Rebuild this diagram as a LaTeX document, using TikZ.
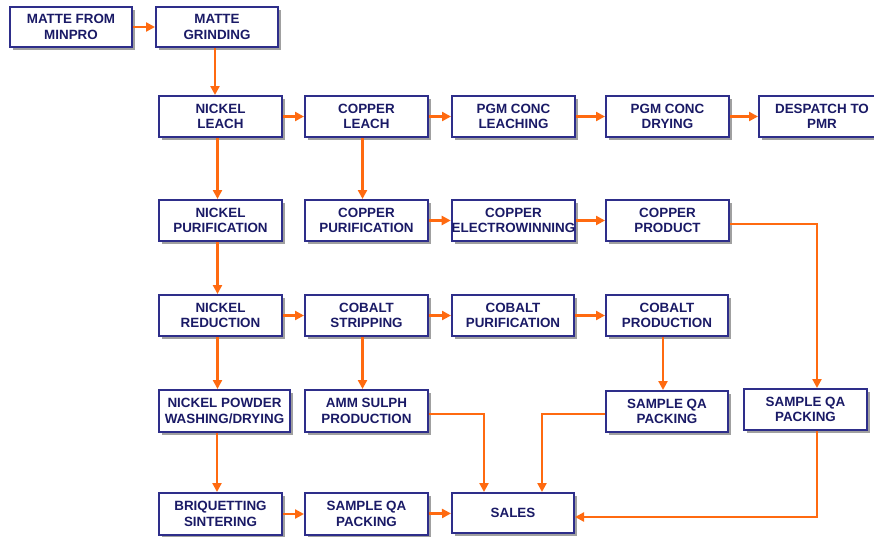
\documentclass[tikz,border=0pt]{standalone}
\usepackage{fontspec}
\setmainfont{Liberation Sans}
\usetikzlibrary{arrows.meta}
\definecolor{boxblue}{HTML}{2E2E8A}
\definecolor{txtblue}{HTML}{1A1A66}
\definecolor{arr}{HTML}{FF6A10}
\definecolor{shad}{HTML}{A0A0A0}
\tikzset{
  pbox/.style={draw=boxblue, line width=2pt, fill=white, inner sep=0pt, align=center,
    font=\fontsize{13.4}{15.5}\selectfont\bfseries, text=txtblue},
  flow/.style={draw=arr, line width=2.8pt, -{Triangle[length=9pt,width=9pt]}},
}
\newcommand{\bx}[6]{%
  \fill[shad] (#2pt+3pt,-#3pt-3pt) rectangle (#4pt+3pt,-#5pt-3pt);
  \node[pbox, minimum width=#4pt-#2pt, minimum height=#5pt-#3pt] (#1) at ({(#2+#4)/2*1pt},{-(#3+#5)/2*1pt}) {#6};}
\begin{document}
\begin{tikzpicture}[x=1pt,y=1pt]
\useasboundingbox (0,0) rectangle (874,-536);
\clip (0,0) rectangle (874,-536);
\fill[white] (0,0) rectangle (874,-536);
% row 0
\bx{minpro}{10}{7}{132}{47}{MATTE FROM\\MINPRO}
\bx{grind}{156}{7}{278}{47}{MATTE\\GRINDING}
% row 1
\bx{nileach}{159}{96}{282}{137}{NICKEL\\LEACH}
\bx{culeach}{305}{96}{428}{137}{COPPER\\LEACH}
\bx{pgmleach}{452}{96}{575}{137}{PGM CONC\\LEACHING}
\bx{pgmdry}{606}{96}{729}{137}{PGM CONC\\DRYING}
\bx{despatch}{759}{96}{885}{137}{DESPATCH TO\\PMR}
% row 2
\bx{nipur}{159}{200}{282}{241}{NICKEL\\PURIFICATION}
\bx{cupur}{305}{200}{428}{241}{COPPER\\PURIFICATION}
\bx{cuew}{452}{200}{575}{241}{COPPER\\ELECTROWINNING}
\bx{cuprod}{606}{200}{729}{241}{COPPER\\PRODUCT}
% row 3
\bx{nired}{159}{295}{282}{336}{NICKEL\\REDUCTION}
\bx{costrip}{305}{295}{428}{336}{COBALT\\STRIPPING}
\bx{copur}{452}{295}{574}{336}{COBALT\\PURIFICATION}
\bx{coprod}{606}{295}{728}{336}{COBALT\\PRODUCTION}
% row 4
\bx{niwash}{159}{390}{290}{432}{NICKEL POWDER\\WASHING/DRYING}
\bx{amm}{305}{390}{428}{432}{AMM SULPH\\PRODUCTION}
\bx{qamid}{606}{391}{728}{432}{SAMPLE QA\\PACKING}
\bx{qaright}{744}{389}{867}{430}{SAMPLE QA\\PACKING}
% row 5
\bx{briq}{159}{493}{282}{535}{BRIQUETTING\\SINTERING}
\bx{qaleft}{305}{493}{428}{535}{SAMPLE QA\\PACKING}
\bx{sales}{452}{493}{574}{533}{SALES}
% connectors
\draw[flow] (minpro) -- (grind);
\draw[flow] ([xshift=-2pt]grind.south) -- ([xshift=-2pt]grind.south |- nileach.north);
\draw[flow] (nileach) -- (culeach);
\draw[flow] (culeach) -- (pgmleach);
\draw[flow] (pgmleach) -- (pgmdry);
\draw[flow] (pgmdry) -- (despatch);
\draw[flow] ([xshift=-3pt]nileach.south) -- ([xshift=-3pt]nileach.south |- nipur.north);
\draw[flow] ([xshift=-4pt]culeach.south) -- ([xshift=-4pt]culeach.south |- cupur.north);
\draw[flow] (cupur) -- (cuew);
\draw[flow] (cuew) -- (cuprod);
\draw[flow] ([xshift=-3pt]nipur.south) -- ([xshift=-3pt]nipur.south |- nired.north);
\draw[flow] (nired) -- (costrip);
\draw[flow] (costrip) -- (copur);
\draw[flow] (copur) -- (coprod);
\draw[flow] ([xshift=-3pt]nired.south) -- ([xshift=-3pt]nired.south |- niwash.north);
\draw[flow] ([xshift=-4pt]costrip.south) -- ([xshift=-4pt]costrip.south |- amm.north);
\draw[flow] ([xshift=-4pt]coprod.south) -- ([xshift=-4pt]coprod.south |- qamid.north);
\draw[flow] ([xshift=-7.5pt]niwash.south) -- ([xshift=-7.5pt]niwash.south |- briq.north);
\draw[flow] (briq) -- (qaleft);
\draw[flow] (qaleft) -- (sales);
\coordinate (cuturn) at (817,-224);
\draw[flow] (cuprod.east |- cuturn) -- (cuturn) -- (cuturn |- qaright.north);
\coordinate (ammturn) at (484,-414);
\draw[flow] (amm.east |- ammturn) -- (ammturn) -- (ammturn |- sales.north);
\coordinate (qaturn) at (542,-414);
\draw[flow] (qamid.west |- qaturn) -- (qaturn) -- (qaturn |- sales.north);
\coordinate (rturn) at (817,-517);
\draw[flow] (rturn |- qaright.south) -- (rturn) -- (sales.east |- rturn);
\end{tikzpicture}
\end{document}
